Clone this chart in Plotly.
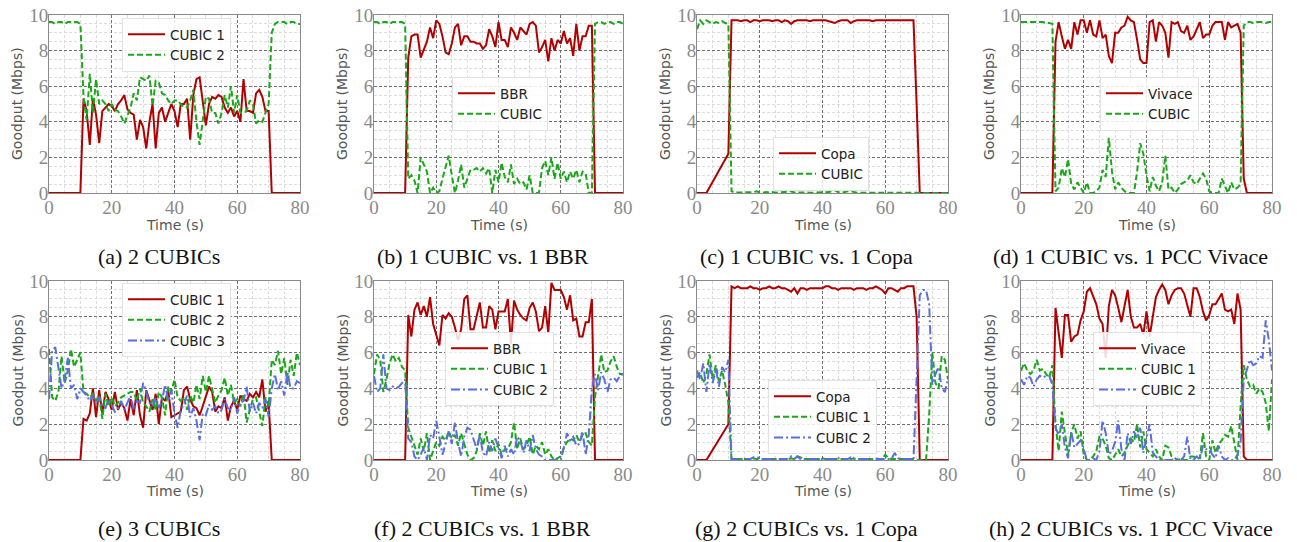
import plotly.graph_objects as go

W, H = 1297, 542
OFF = 8                      # page body margin of the written html
FW, FH = W - OFF, H - OFF    # figure size so that it fills the window


def fx(p):
    return (p - OFF) / FW


def fy(p):
    return 1 - (p - OFF) / FH


t = list(range(81))

# ---------- (a) 2 CUBICs ----------
a_cubic1 = [0, 0, 0, 0, 0, 0, 0, 0, 0, 0,
            0, 5.3, 4.6, 2.7, 5.3, 4.4, 2.8, 4.6, 4.8, 5.0,
            4.9, 4.6, 5.0, 5.2, 5.5, 4.7, 4.5, 4.4, 3.0, 4.1,
            3.7, 2.5, 4.0, 5.0, 2.5, 4.5, 4.8, 4.0, 4.5, 5.0,
            4.6, 3.7, 5.0, 5.0, 5.3, 3.0, 5.5, 6.4, 6.5, 5.0,
            3.8, 5.0, 5.4, 5.3, 5.5, 5.4, 4.8, 4.5, 4.8, 4.3,
            4.6, 4.0, 6.4, 4.6, 4.6, 4.5, 5.6, 5.8, 5.4, 4.6,
            4.6, 0, 0, 0, 0, 0, 0, 0, 0, 0,
            0]
a_cubic2 = [9.6, 9.6, 9.5, 9.6, 9.6, 9.5, 9.6, 9.6, 9.6, 9.6,
            9.5, 5.4, 4.1, 6.7, 4.5, 6.4, 5.0, 5.2, 5.0, 4.6,
            5.0, 4.7, 4.6, 4.3, 3.9, 4.4, 4.8, 5.6, 5.2, 6.5,
            6.4, 6.3, 6.6, 4.9, 6.3, 6.2, 5.6, 5.5, 5.2, 5.0,
            5.2, 5.2, 5.0, 4.8, 4.8, 5.2, 5.8, 4.0, 2.7, 4.0,
            5.4, 5.3, 4.5, 4.5, 3.9, 4.5, 5.5, 4.8, 6.0, 4.5,
            5.5, 4.5, 4.5, 4.6, 5.2, 5.0, 3.9, 4.1, 4.0, 4.5,
            5.0, 9.0, 9.5, 9.6, 9.6, 9.6, 9.5, 9.6, 9.6, 9.5,
            9.5]

# ---------- (b) 1 CUBIC vs 1 BBR ----------
b_bbr = [0, 0, 0, 0, 0, 0, 0, 0, 0, 0,
         0, 7.6, 8.8, 8.9, 8.9, 7.6, 8.0, 8.5, 9.3, 8.7,
         9.7, 9.5, 8.8, 7.9, 7.8, 8.4, 9.3, 9.5, 8.3, 8.8,
         8.8, 8.5, 8.5, 8.4, 8.4, 8.1, 8.3, 9.2, 8.8, 8.2,
         9.6, 8.6, 8.6, 8.2, 9.3, 9.0, 8.6, 9.3, 9.1, 8.9,
         9.5, 9.6, 9.4, 7.9, 8.2, 8.6, 7.4, 8.7, 8.0, 8.6,
         8.4, 9.1, 8.4, 8.7, 7.7, 9.5, 8.0, 8.8, 8.8, 9.4,
         9.4, 0, 0, 0, 0, 0, 0, 0, 0, 0,
         0]
b_cubic = [9.6, 9.6, 9.5, 9.6, 9.6, 9.5, 9.6, 9.6, 9.6, 9.6,
           9.5, 0.8, 1.0, 0.7, 0.0, 2.0, 1.6, 1.2, 0.0, 0.3,
           0.0, 0.1, 0.8, 1.5, 2.1, 1.0, 0.0, 0.7, 1.6, 0.3,
           0.8, 1.3, 1.3, 1.4, 1.2, 1.4, 1.1, 1.4, 0.0, 1.3,
           0.6, 1.7, 0.9, 0.6, 1.6, 0.5, 0.8, 0.5, 0.6, 0.2,
           1.0, 0.0, 0.0, 0.0, 1.4, 1.8, 1.0, 2.0, 0.8, 1.7,
           0.8, 1.2, 0.6, 1.2, 0.8, 1.3, 0.6, 1.2, 1.1, 0.0,
           0.0, 9.5, 9.6, 9.6, 9.5, 9.6, 9.6, 9.5, 9.6, 9.6,
           9.5]

# ---------- (c) 1 CUBIC vs 1 Copa ----------
c_copa = [0, 0, 0, 0, None, None, None, None, None, None,
          2.2, 9.7, 9.7, 9.7, 9.65, 9.7, 9.7, 9.6, 9.7, 9.7,
          9.65, 9.7, 9.7, 9.7, 9.65, 9.7, 9.7, 9.6, 9.7, 9.65,
          9.5, 9.65, 9.7, 9.7, 9.7, 9.7, 9.65, 9.7, 9.7, 9.7,
          9.7, 9.7, 9.65, 9.6, 9.55, 9.65, 9.7, 9.7, 9.7, 9.55,
          9.65, 9.7, 9.7, 9.7, 9.7, 9.7, 9.65, 9.7, 9.7, 9.7,
          9.7, 9.7, 9.7, 9.7, 9.7, 9.7, 9.7, 9.7, 9.7, 9.7,
          5.0, 0, 0, 0, 0, 0, 0, 0, 0, 0,
          0]
c_cubic = [9.2, 9.7, 9.5, 9.7, 9.6, 9.5, 9.6, 9.55, 9.65, 9.55,
           9.5, 0.1, 0.02, 0.02, 0.02, 0.02, 0.02, 0.02, 0.05, 0.1,
           0.03, 0.02, 0.05, 0.02, 0.05, 0.02, 0.02, 0.02, 0.05, 0.1,
           0.1, 0.03, 0.02, 0.02, 0.02, 0.02, 0.02, 0.02, 0.02, 0.03,
           0.02, 0.02, 0.05, 0.1, 0.15, 0.05, 0.02, 0.05, 0.1, 0.1,
           0.05, 0.02, 0.02, 0.02, 0.02, 0.02, 0.02, 0.02, 0.02, 0.02,
           0.02, 0.02, 0.02, 0.02, 0.02, 0.02, 0.02, 0.02, 0.02, 0.02,
           0, 0, 0, 0, 0, 0, 0, 0, 0, 0,
           0]

# ---------- (d) 1 CUBIC vs 1 PCC Vivace ----------
d_vivace = [0, 0, 0, 0, 0, 0, 0, 0, 0, 0,
            0, 8.5, 9.6, 8.8, 8.1, 8.6, 8.1, 9.6, 8.9, 9.7,
            9.7, 9.0, 9.7, 8.9, 8.8, 9.7, 8.7, 8.9, 7.7, 7.3,
            9.0, 9.0, 9.3, 9.4, 9.9, 9.7, 9.6, 8.6, 7.5, 7.3,
            7.3, 9.6, 9.7, 8.5, 9.6, 9.4, 9.0, 7.6, 9.6, 9.5,
            9.6, 9.1, 9.0, 9.4, 8.6, 8.8, 9.2, 9.6, 8.7, 8.9,
            8.9, 9.4, 9.6, 9.6, 9.6, 8.6, 9.6, 9.3, 9.4, 9.5,
            9.0, 0.8, 0, 0, 0, 0, 0, 0, 0, 0,
            0]
d_cubic = [9.6, 9.6, 9.6, 9.6, 9.6, 9.6, 9.6, 9.6, 9.55, 9.55,
           9.5, 0.1, 0.3, 1.4, 0.9, 1.9, 0.5, 0.2, 0.6, 0.3,
           0.0, 0.6, 0.0, 0.0, 0.1, 0.3, 1.3, 0.9, 3.1, 1.2,
           0.2, 0.6, 0.3, 0.1, 0.0, 0.0, 0.0, 1.2, 2.8, 2.2,
           1.0, 0.1, 0.9, 0.4, 0.1, 0.6, 2.1, 0.2, 0.3, 0.0,
           0.2, 0.5, 0.6, 0.7, 1.0, 0.6, 0.5, 0.8, 1.1, 0.8,
           0.1, 0.0, 0.0, 0.0, 0.8, 0.4, 0.0, 0.6, 0.2, 0.3,
           0.5, 9.4, 9.6, 9.6, 9.55, 9.6, 9.6, 9.6, 9.55, 9.6,
           9.6]

# ---------- (e) 3 CUBICs ----------
e_cubic1 = [0, 0, 0, 0, 0, 0, 0, 0, 0, 0,
            0, 2.3, 2.2, 2.6, 4.0, 2.4, 3.9, 2.6, 3.8, 3.4,
            2.8, 3.8, 2.8, 3.2, 2.9, 2.2, 3.4, 2.5, 3.9, 2.5,
            1.8, 3.9, 3.3, 2.8, 3.7, 2.0, 3.5, 3.3, 3.9, 2.4,
            2.5, 2.6, 2.7, 3.9, 4.1, 3.4, 3.0, 2.9, 2.5, 3.0,
            3.6, 4.1, 3.8, 2.7, 3.0, 2.9, 3.5, 2.2, 3.0, 3.3,
            2.8, 3.6, 3.4, 3.3, 3.7, 3.5, 3.8, 3.5, 4.5, 2.7,
            3.2, 0, 0, 0, 0, 0, 0, 0, 0, 0,
            0]
e_cubic2 = [6.2, 3.5, 3.3, 3.8, 5.8, 4.3, 5.0, 6.2, 5.2, 5.6,
            6.0, 3.8, 3.7, 3.5, 3.7, 3.3, 3.6, 2.3, 3.7, 3.0,
            3.5, 3.0, 3.2, 3.5, 3.6, 3.7, 3.8, 3.8, 3.3, 4.0,
            3.2, 3.0, 2.7, 3.4, 2.8, 3.8, 3.5, 2.5, 4.1, 3.8,
            4.5, 3.5, 3.3, 3.5, 2.8, 3.6, 3.2, 4.2, 3.4, 4.7,
            3.8, 4.7, 4.0, 3.2, 3.6, 3.9, 4.6, 3.6, 4.2, 3.2,
            3.4, 3.0, 3.7, 2.1, 2.8, 3.4, 3.5, 2.7, 1.9, 3.5,
            3.0, 5.6, 5.3, 6.1, 4.8, 5.7, 4.2, 5.6, 4.7, 6.0,
            5.3]
e_cubic3 = [3.4, 6.1, 6.3, 5.0, 4.0, 4.5, 5.7, 4.0, 4.2, 3.4,
            4.0, 3.8, 3.6, 3.3, 3.6, 3.1, 3.5, 3.0, 2.9, 3.4,
            3.0, 2.7, 2.9, 3.3, 2.8, 3.2, 3.6, 2.8, 3.3, 3.2,
            4.3, 3.8, 3.2, 3.0, 3.5, 2.9, 3.3, 4.2, 3.3, 3.9,
            2.6, 1.8, 2.8, 3.1, 3.6, 2.4, 2.9, 2.2, 1.1, 2.6,
            2.5, 3.1, 2.8, 3.0, 2.6, 2.8, 3.4, 2.9, 2.8, 3.5,
            2.6, 3.2, 3.3, 4.1, 2.7, 3.2, 2.6, 3.2, 2.9, 3.4,
            2.4, 4.0, 4.8, 3.9, 4.4, 3.6, 4.9, 4.0, 4.0, 4.4,
            4.3]

# ---------- (f) 2 CUBICs vs 1 BBR ----------
f_bbr = [0, 0, 0, 0, 0, 0, 0, 0, 0, 0,
         0, 8.1, 6.9, 8.4, 8.8, 8.1, 8.6, 8.0, 9.1, 7.6,
         7.0, 6.4, 8.1, 7.9, 8.2, 8.0, 7.4, 6.7, 7.3, 9.0,
         9.2, 7.3, 7.3, 8.1, 8.8, 7.4, 7.4, 8.6, 8.4, 7.3,
         8.3, 8.3, 8.3, 9.0, 6.5, 8.9, 8.4, 8.1, 7.9, 7.8,
         8.5, 8.8, 8.3, 7.2, 7.4, 8.6, 7.1, 9.9, 9.5, 9.5,
         9.5, 9.1, 8.4, 9.2, 7.8, 7.9, 6.9, 6.9, 7.7, 7.7,
         9.0, 0, 0, 0, 0, 0, 0, 0, 0, 0,
         0]
f_cubic1 = [4.8, 5.9, 5.6, 3.8, 4.5, 5.4, 5.9, 5.5, 5.7, 5.2,
            5.0, 1.8, 1.3, 0.8, 0.3, 1.2, 0.5, 1.5, 0.0, 0.5,
            1.0, 0.8, 1.3, 1.1, 1.6, 1.2, 1.4, 0.8, 1.5, 0.9,
            0.3, 0.0, 0.1, 0.5, 1.5, 0.8, 1.6, 0.4, 1.1, 0.5,
            0.9, 0.3, 0.6, 0.6, 1.0, 2.1, 0.6, 1.2, 0.6, 0.8,
            1.3, 0.3, 0.8, 0.6, 1.0, 0.3, 0.6, 0.2, 0.0, 0.1,
            0.2, 0.7, 1.0, 1.2, 1.1, 1.4, 1.0, 1.4, 1.5, 1.0,
            0.8, 3.5, 4.8, 5.9, 4.9, 5.0, 5.5, 5.8, 5.2, 4.8,
            4.8]
f_cubic2 = [4.7, 3.8, 4.0, 5.9, 4.0, 3.9, 4.1, 4.0, 4.1, 4.3,
            4.5, 1.2, 1.0, 0.2, 0.0, 0.3, 0.7, 0.0, 1.4, 1.2,
            2.2, 1.3, 0.3, 0.9, 1.6, 0.9, 2.1, 1.0, 0.2, 1.3,
            1.8, 1.7, 1.2, 0.6, 1.4, 0.4, 0.2, 1.0, 0.5, 1.2,
            0.7, 0.1, 0.8, 0.2, 0.6, 0.3, 1.3, 1.1, 0.4, 1.1,
            0.5, 1.4, 0.6, 0.3, 0.2, 0.0, 0.0, 0.0, 0.0, 0.0,
            0.0, 0.7, 1.5, 1.1, 1.3, 0.8, 0.9, 1.6, 0.3, 1.4,
            4.0, 4.8, 3.9, 4.9, 4.5, 3.8, 4.5, 4.6, 4.4, 4.7,
            4.8]

# ---------- (g) 2 CUBICs vs 1 Copa ----------
g_copa = [0, 0, 0, 0, None, None, None, None, None, None,
          2.0, 9.7, 9.6, 9.7, 9.6, 9.6, 9.6, 9.7, 9.6, 9.6,
          9.5, 9.6, 9.6, 9.7, 9.6, 9.6, 9.7, 9.6, 9.6, 9.5,
          9.4, 9.6, 9.3, 9.6, 9.6, 9.5, 9.6, 9.6, 9.6, 9.6,
          9.6, 9.7, 9.7, 9.6, 9.6, 9.5, 9.6, 9.6, 9.6, 9.6,
          9.5, 9.6, 9.6, 9.6, 9.5, 9.6, 9.6, 9.7, 9.6, 9.5,
          9.3, 9.6, 9.6, 9.5, 9.4, 9.6, 9.6, 9.7, 9.7, 9.7,
          8.0, 0, 0, 0, 0, 0, 0, 0, 0, 0,
          0]
g_cubic1 = [4.6, 4.9, 4.3, 4.8, 5.9, 4.5, 5.3, 4.4, 5.0, 4.2,
            3.2, 0.05, 0.05, 0.05, 0.05, 0.05, 0.05, 0.05, 0.1, 0.05,
            0.05, 0.05, 0.05, 0.05, 0.05, 0.05, 0.05, 0.05, 0.05, 0.05,
            0.1, 0.05, 0.2, 0.15, 0.05, 0.05, 0.05, 0.05, 0.05, 0.05,
            0.1, 0.05, 0.05, 0.05, 0.05, 0.05, 0.05, 0.05, 0.05, 0.05,
            0.1, 0.05, 0.05, 0.05, 0.05, 0.05, 0.05, 0.1, 0.05, 0.05,
            0.3, 0.1, 0.05, 0.05, 0.05, 0.05, 0.05, 0.05, 0.05, 0.05,
            0.0, 0.0, 0.0, 0.0, 2.5, 6.0, 4.3, 4.0, 5.8, 5.6,
            4.5]
g_cubic2 = [5.0, 4.5, 5.4, 3.8, 5.4, 4.3, 5.1, 4.1, 5.2, 4.9,
            5.6, 0.05, 0.05, 0.05, 0.05, 0.05, 0.05, 0.05, 0.15, 0.15,
            0.1, 0.05, 0.05, 0.05, 0.1, 0.05, 0.05, 0.05, 0.05, 0.05,
            0.2, 0.05, 0.2, 0.05, 0.05, 0.05, 0.05, 0.05, 0.05, 0.05,
            0.05, 0.05, 0.05, 0.05, 0.05, 0.1, 0.05, 0.05, 0.05, 0.15,
            0.05, 0.05, 0.05, 0.05, 0.05, 0.05, 0.05, 0.05, 0.05, 0.05,
            0.05, 0.05, 0.05, 0.4, 0.1, 0.05, 0.05, 0.05, 0.05, 0.0,
            4.5, 9.2, 9.5, 9.5, 8.7, 4.2, 4.8, 5.2, 4.0, 3.8,
            4.5]

# ---------- (h) 2 CUBICs vs 1 PCC Vivace ----------
h_vivace = [0, 0, 0, 0, 0, 0, 0, 0, 0, 0,
            0, 8.5, 7.2, 5.7, 8.1, 8.1, 6.6, 6.9, 7.0, 7.8,
            8.3, 9.4, 9.6, 9.2, 8.7, 7.9, 7.6, 5.7, 8.6, 9.5,
            9.2, 8.5, 7.7, 8.6, 9.5, 8.0, 7.4, 7.4, 7.6, 7.0,
            8.3, 6.9, 8.1, 9.1, 9.5, 9.8, 9.5, 8.7, 9.2, 9.5,
            9.6, 9.6, 9.3, 8.6, 8.0, 9.6, 9.6, 9.1, 8.3, 7.8,
            8.1, 8.7, 8.7, 9.0, 9.3, 8.4, 8.3, 8.4, 7.6, 9.3,
            8.4, 0.2, 0, 0, 0, 0, 0, 0, 0, 0,
            0]
h_cubic1 = [5.0, 5.4, 5.0, 4.8, 5.0, 5.6, 5.0, 5.1, 4.8, 4.6,
            5.3, 2.0, 0.5, 2.7, 1.5, 0.3, 1.5, 2.0, 1.2, 1.6,
            0.3, 0.0, 0.0, 0.2, 0.5, 1.3, 1.2, 0.8, 0.1, 0.0,
            0.3, 0.6, 0.2, 0.4, 0.8, 1.2, 1.0, 2.0, 0.7, 1.6,
            0.6, 0.4, 0.2, 0.6, 0.2, 0.0, 0.8, 0.7, 0.2, 0.1,
            0.0, 0.1, 0.0, 0.0, 0.2, 0.2, 0.1, 0.1, 1.5, 0.2,
            0.0, 1.1, 0.4, 0.9, 1.1, 1.4, 1.3, 1.9, 1.0, 0.0,
            3.0, 5.3, 4.5, 4.1, 4.2, 3.7, 4.0, 3.8, 3.2, 1.6,
            4.5]
h_cubic2 = [4.5, 4.2, 4.7, 4.6, 4.1, 4.5, 4.7, 4.6, 4.7, 4.7,
            4.2, 1.8, 1.4, 2.0, 0.7, 0.1, 1.6, 0.7, 0.9, 1.1,
            0.6, 0.0, 0.0, 0.1, 0.0, 0.5, 2.2, 1.5, 0.3, 0.5,
            1.0, 2.2, 0.6, 0.0, 1.5, 0.9, 1.6, 1.2, 1.8, 0.4,
            1.2, 2.0, 0.4, 0.2, 0.0, 0.0, 0.0, 0.0, 0.0, 0.1,
            0.0, 0.0, 0.2, 1.3, 0.0, 0.0, 0.2, 0.0, 0.8, 0.6,
            0.6, 0.3, 0.1, 0.8, 0.2, 0.0, 0.1, 0.0, 0.0, 0.3,
            1.0, 4.5, 5.0, 5.6, 5.3, 5.4, 5.8, 5.7, 7.8, 6.7,
            5.0]

x_ticks = [0, 20, 40, 60, 80]
y_ticks = [0, 2, 4, 6, 8, 10]

RED, GREEN, BLUE = "#b00000", "#18a818", "#5a6ee0"
STY = {
    "r": dict(color=RED, width=2),
    "g": dict(color=GREEN, width=2, dash="6px,3px"),
    "b": dict(color=BLUE, width=2, dash="9px,3px,2px,3px"),
}

panels = [
    ("(a) 2 CUBICs", [("CUBIC 1", a_cubic1, "r"), ("CUBIC 2", a_cubic2, "g")], (122, 18)),
    ("(b) 1 CUBIC vs. 1 BBR", [("BBR", b_bbr, "r"), ("CUBIC", b_cubic, "g")], (452, 77)),
    ("(c) 1 CUBIC vs. 1 Copa", [("Copa", c_copa, "r"), ("CUBIC", c_cubic, "g")], (773, 137)),
    ("(d) 1 CUBIC vs. 1 PCC Vivace", [("Vivace", d_vivace, "r"), ("CUBIC", d_cubic, "g")], (1100, 77)),
    ("(e) 3 CUBICs", [("CUBIC 1", e_cubic1, "r"), ("CUBIC 2", e_cubic2, "g"), ("CUBIC 3", e_cubic3, "b")], (122, 283)),
    ("(f) 2 CUBICs vs. 1 BBR", [("BBR", f_bbr, "r"), ("CUBIC 1", f_cubic1, "g"), ("CUBIC 2", f_cubic2, "b")], (445, 332)),
    ("(g) 2 CUBICs vs. 1 Copa", [("Copa", g_copa, "r"), ("CUBIC 1", g_cubic1, "g"), ("CUBIC 2", g_cubic2, "b")], (768, 380)),
    ("(h) 2 CUBICs vs. 1 PCC Vivace", [("Vivace", h_vivace, "r"), ("CUBIC 1", h_cubic1, "g"), ("CUBIC 2", h_cubic2, "b")], (1093, 332)),
]

cols = [(49, 300), (374, 623), (697, 948), (1021, 1272)]
rows = [(15, 193), (281, 460)]
caption_y = [257, 528]
xtitle_y = [225, 491]

SERIF = "Liberation Serif"
SANS = "DejaVu Sans"

fig = go.Figure()
annotations = []
layout = {}

for i, (caption, series, (lx, ly)) in enumerate(panels):
    r, c = divmod(i, 4)
    x0, x1 = cols[c]
    y0, y1 = rows[r]
    n = i + 1
    xa = "x" if n == 1 else f"x{n}"
    ya = "y" if n == 1 else f"y{n}"
    lg = "legend" if n == 1 else f"legend{n}"
    for name, vals, s in series:
        fig.add_trace(go.Scatter(x=t, y=vals, name=name, mode="lines", line=STY[s],
                                 connectgaps=True, xaxis=xa, yaxis=ya, legend=lg))
    common = dict(showline=True, linecolor="#8a8a8a", linewidth=1, mirror=True,
                  showgrid=True, gridcolor="#707070", gridwidth=0.8, griddash="3px,2px",
                  zeroline=False, ticks="", automargin=False, ticklabeloverflow="allow",
                  tickfont=dict(family=SERIF, size=19, color="#8a8a8a"),
                  fixedrange=True)
    layout["xaxis" if n == 1 else f"xaxis{n}"] = dict(
        domain=[fx(x0), fx(x1)], range=[0, 80], anchor=ya, tickvals=x_ticks,
        ticklabelstandoff=-3,
        minor=dict(dtick=5, showgrid=True, gridcolor="#dcdcdc", gridwidth=0.8), **common)
    layout["yaxis" if n == 1 else f"yaxis{n}"] = dict(
        domain=[fy(y1), fy(y0)], range=[0, 10], anchor=xa, tickvals=y_ticks,
        ticklabelstandoff=-4,
        minor=dict(dtick=0.5, showgrid=True, gridcolor="#dcdcdc", gridwidth=0.8), **common)
    layout[lg] = dict(x=fx(lx), y=fy(ly), xanchor="left", yanchor="top",
                      bgcolor="rgba(255,255,255,0.85)", bordercolor="#e2e2e2", borderwidth=1,
                      itemwidth=37,
                      font=dict(family=SANS, size=13.5, color="#222"), tracegroupgap=0)
    cx = (x0 + x1) / 2
    annotations.append(dict(text=caption, x=fx(cx - 16), y=fy(caption_y[r]), xref="paper", yref="paper",
                            showarrow=False, xanchor="center", yanchor="middle",
                            font=dict(family=SERIF, size=22, color="#111")))
    annotations.append(dict(text="Time (s)", x=fx(cx), y=fy(xtitle_y[r]), xref="paper", yref="paper",
                            showarrow=False, xanchor="center", yanchor="middle",
                            font=dict(family=SANS, size=14, color="#555")))
    annotations.append(dict(text="Goodput (Mbps)", x=fx(x0 - 32), y=fy((y0 + y1) / 2),
                            xref="paper", yref="paper", textangle=-90,
                            showarrow=False, xanchor="center", yanchor="middle",
                            font=dict(family=SANS, size=14, color="#555")))

fig.update_layout(width=FW, height=FH, margin=dict(l=0, r=0, t=0, b=0, autoexpand=False),
                  paper_bgcolor="white", plot_bgcolor="white",
                  annotations=annotations, **layout)

fig.write_html("out.html", config={"displayModeBar": False})
